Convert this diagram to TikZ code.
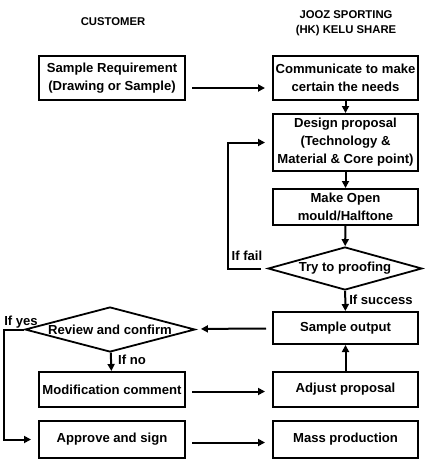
\documentclass[tikz,border=0pt]{standalone}
\usepackage{fontspec}
\setmainfont{Liberation Sans}
\usetikzlibrary{shapes.geometric, arrows.meta}

\begin{document}
\begin{tikzpicture}[
    x=1pt, y=-1pt,
    block/.style={rectangle, draw, line width=2pt, align=center, inner sep=1.5pt, font=\bfseries\fontsize{13.1}{18}\selectfont},
    leftblock/.style={block, minimum width=146pt},
    rightblock/.style={block, minimum width=145pt},
    decision/.style={diamond, draw, line width=1.8pt, inner sep=0pt, aspect=3.5, font=\bfseries\fontsize{13.1}{18}\selectfont},
    header/.style={align=center, font=\bfseries\fontsize{11.3}{15.5}\selectfont},
    note/.style={font=\bfseries\fontsize{13.1}{15}\selectfont, inner sep=0pt},
    arrow/.style={-{Triangle[length=7pt, width=7pt]}, line width=2pt},
    harrow/.style={arrow, shorten <=6pt, shorten >=7pt}
]
    \useasboundingbox (0,0) rectangle (425,460);

    % column titles
    \node[header] (cust) at (113,22) {CUSTOMER};
    \node[header] (jooz) at (346,23) {JOOZ SPORTING\\(HK) KELU SHARE};

    % customer side
    \node[leftblock, minimum height=44pt] (req) at (112,78) {Sample Requirement\\(Drawing or Sample)};
    \node[decision, minimum width=170pt, minimum height=43pt] (review) at (110,329.5) {Review and confirm};
    \node[leftblock, minimum height=35pt] (mod) at (112,389.5) {Modification comment};
    \node[leftblock, minimum height=37pt] (approve) at (112,439.5) {Approve and sign};

    % supplier side
    \node[rightblock, minimum height=44pt] (comm) at (345.5,78) {Communicate to make\\certain the needs};
    \node[rightblock, minimum height=57pt] (design) at (345.5,142.5) {Design proposal\\(Technology \&\\Material \& Core point)};
    \node[rightblock, minimum height=36pt] (mould) at (345.5,207) {Make Open\\mould/Halftone};
    \node[decision, minimum width=154pt, minimum height=43pt] (try) at (345,268.5) {Try to proofing};
    \node[rightblock, minimum height=32pt] (output) at (345.5,328) {Sample output};
    \node[rightblock, minimum height=35pt] (adjust) at (345.5,389.5) {Adjust proposal};
    \node[rightblock, minimum height=37pt] (mass) at (345.5,439.5) {Mass production};

    % flow
    \draw[harrow] ([yshift=-10pt]req.east) -- ([yshift=-10pt]comm.west);
    \draw[arrow] (comm) -- (design);
    \draw[arrow] (design) -- (mould);
    \draw[arrow] (mould) -- (try);
    \draw[arrow] (try) -- (output);
    \draw[harrow] (try.west) -- ++(-39,0) |- (design.west);
    \draw[harrow] (output) -- (review);
    \draw[arrow] (review) -- (mod);
    \draw[harrow] ([yshift=-2pt]mod.east) -- ([yshift=-2pt]adjust.west);
    \draw[arrow] (adjust) -- (output);
    \draw[harrow, shorten <=0pt] (review.west) -- ++(-20,0) |- (approve.west);
    \draw[harrow] ([yshift=-3pt]approve.east) -- ([yshift=-3pt]mass.west);

    % branch labels
    \node[note] (fail) at (247,256) {If fail};
    \node[note] (success) at (381,300) {If success};
    \node[note] (yes) at (21,322) {If yes};
    \node[note] (no) at (132,360) {If no};
\end{tikzpicture}
\end{document}
